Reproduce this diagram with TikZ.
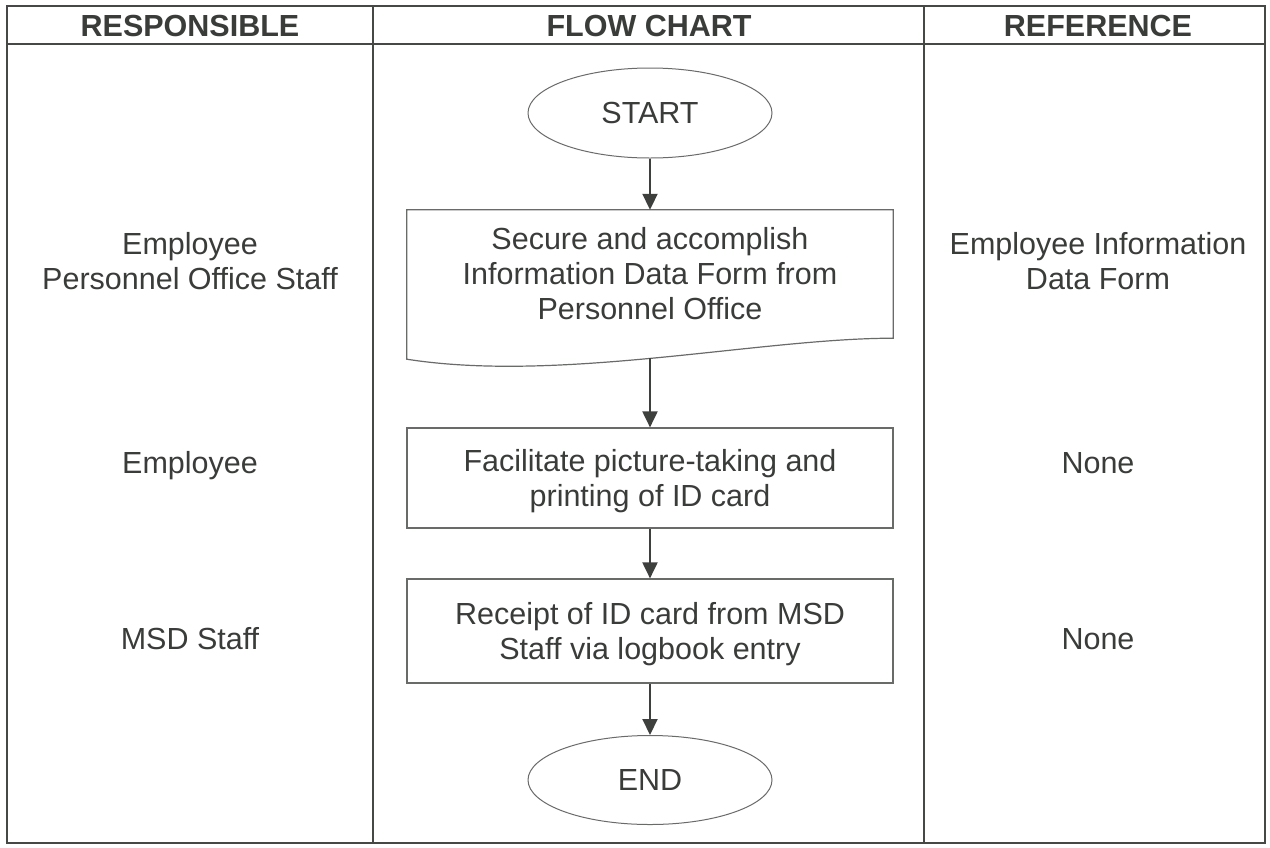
\documentclass[tikz,border=0pt]{standalone}
\usepackage{fontspec}
\setmainfont{Liberation Sans}
\usetikzlibrary{shapes.geometric,arrows.meta,calc}
\definecolor{txt}{RGB}{58,60,58}
\definecolor{rulec}{RGB}{70,72,70}
\definecolor{boxc}{RGB}{105,107,105}
\definecolor{arr}{RGB}{62,64,62}
\begin{document}
\begin{tikzpicture}[x=1pt,y=-1pt,
  every node/.style={text=txt, font=\fontsize{30.5}{35}\selectfont, inner sep=0pt},
  hdr/.style={font=\fontsize{30.5}{35}\selectfont\bfseries},
  term/.style={ellipse, draw=boxc, line width=1pt, minimum width=244pt, minimum height=90pt},
  procbox/.style={rectangle, draw=boxc, line width=1.2pt, minimum width=486pt, align=center},
  flowarrow/.style={draw=arr, line width=2pt, -{Triangle[width=15pt,length=16pt]}},
  tablerule/.style={draw=rulec, line width=1.8pt}
]
\fill[white] (0,0) rectangle (1270,847);
\useasboundingbox (0,0) rectangle (1270,847);

% table
\draw[tablerule] (7,6) rectangle (1265,843);
\draw[tablerule] (7,44) -- (1265,44);
\draw[tablerule] (373,6) -- (373,843);
\draw[tablerule] (924,6) -- (924,843);

% headers
\node[hdr, anchor=base] (hresp) at (190,36) {RESPONSIBLE};
\node[hdr, anchor=base] (hflow) at (649,36) {FLOW CHART};
\node[hdr, anchor=base] (href) at (1098,36) {REFERENCE};

% flow chart
\node[term] (start) at (650,113) {START};
\node[minimum width=486pt, minimum height=128pt, align=center] (doc) at (650,274)
  {Secure and accomplish\\Information Data Form from\\Personnel Office};
\draw[boxc, line width=1.2pt] (doc.north west) -- (doc.north east) -- (doc.south east)
  .. controls ($(doc.south east)+(-133,0)$) and ($(doc.south west)+(153,45)$) ..
  ($(doc.south west)+(0,21)$) -- cycle;
\coordinate (docb) at ($(doc.south)+(0,20)$);
\node[procbox, minimum height=100pt, text depth=0pt] (fac) at (650,478)
  {Facilitate picture-taking and\\printing of ID card};
\node[procbox, minimum height=104pt, text depth=0pt] (rec) at (650,631)
  {Receipt of ID card from MSD\\Staff via logbook entry};
\node[term, minimum height=89pt] (end) at (650,780) {END};

\draw[flowarrow] (start.south) -- (doc.north);
\draw[flowarrow] (docb) -- (fac.north);
\draw[flowarrow] (fac.south) -- (rec.north);
\draw[flowarrow] (rec.south) -- (end.north);

% responsible column
\node[align=center] (r1) at (190,261.5) {Employee\\Personnel Office Staff};
\node[anchor=base] (r2) at (190,473) {Employee};
\node[anchor=base] (r3) at (190,649) {MSD Staff};

% reference column
\node[align=center] (f1) at (1098,261.5) {Employee Information\\Data Form};
\node[anchor=base] (f2) at (1098,473) {None};
\node[anchor=base] (f3) at (1098,649) {None};
\end{tikzpicture}
\end{document}
